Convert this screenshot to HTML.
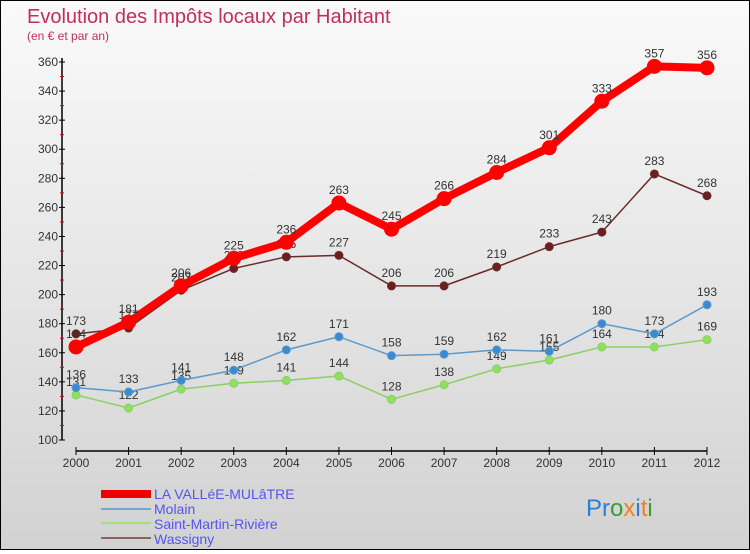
<!DOCTYPE html>
<html><head><meta charset="utf-8"><style>
html,body{margin:0;padding:0}
body{width:750px;height:550px;overflow:hidden;font-family:"Liberation Sans",sans-serif}
#wrap{position:relative;width:748px;height:548px;border:1px solid #000;background:linear-gradient(#fafafa,#d2d2d2)}
</style></head><body>
<div id="wrap">
<svg id="chart" width="748" height="548" xmlns="http://www.w3.org/2000/svg">
<text x="26" y="22" font-size="20" fill="#c0305a">Evolution des Impôts locaux par Habitant</text>
<text x="26" y="39" font-size="12" fill="#c0305a">(en € et par an)</text>
<g id="axes"></g><g id="series"></g>
<g>
<rect x="100" y="489" width="50" height="8" fill="#e00"/>
<text x="153" y="498" font-size="14" fill="#5555ee">LA VALLéE-MULâTRE</text>
<rect x="100" y="507" width="50" height="2" fill="#6fa8d0"/>
<text x="153" y="513" font-size="14" fill="#5555ee">Molain</text>
<rect x="100" y="521" width="50" height="2" fill="#9ee07a"/>
<text x="153" y="528" font-size="14" fill="#5555ee">Saint-Martin-Rivière</text>
<rect x="100" y="536" width="50" height="2" fill="#8b6060"/>
<text x="153" y="543" font-size="14" fill="#5555ee">Wassigny</text>
</g>
<text x="585" y="515" font-size="24"><tspan fill="#2a7fd4">Pr</tspan><tspan fill="#3a9a3a">o</tspan><tspan fill="#f08020">x</tspan><tspan fill="#2a7fd4">i</tspan><tspan fill="#f08020">t</tspan><tspan fill="#3a9a3a">i</tspan></text>
</svg>
</div>
<script>
const years=[2000,2001,2002,2003,2004,2005,2006,2007,2008,2009,2010,2011,2012];
const yTicks=[100,120,140,160,180,200,220,240,260,280,300,320,340,360];
const valleeValues=[164,181,206,225,236,263,245,266,284,301,333,357,356];
const molainValues=[136,133,141,148,162,171,158,159,162,161,180,173,193];
const smrValues=[131,122,135,139,141,144,128,138,149,155,164,164,169];
const wassignyValues=[173,177,203,218,226,227,206,206,219,233,243,283,268];
const NS="http://www.w3.org/2000/svg";
const x0=75,x1=706,yb=439,yt=61,vmin=100,vmax=360;
const xs=i=>x0+(x1-x0)*i/(years.length-1);
const ys=v=>yb-(v-vmin)*(yb-yt)/(vmax-vmin);
function mk(tag,attrs,parent){const e=document.createElementNS(NS,tag);for(const k in attrs)e.setAttribute(k,attrs[k]);parent.appendChild(e);return e;}
const axes=document.getElementById('axes');
let yl=mk('line',{x1:61,y1:ys(vmax)-4,x2:61,y2:ys(vmin),stroke:'#000','stroke-width':1.5},axes);


yTicks.forEach((t,i)=>{
  mk('line',{x1:58,x2:64,y1:ys(t),y2:ys(t),stroke:'#000'},axes);
  if(i<yTicks.length-1) mk('line',{x1:59,x2:63,y1:ys(t+10),y2:ys(t+10),stroke:'#e00'},axes);
  const tx=mk('text',{x:57,y:ys(t)+4,'font-size':12,fill:'#333','text-anchor':'end'},axes);
  tx.textContent=t;
  
  
});
let xl=mk('line',{x1:x0,y1:450,x2:x1,y2:450,stroke:'#000','stroke-width':1.5},axes);


years.forEach((y,i)=>{
  mk('line',{x1:xs(i),x2:xs(i),y1:446,y2:454,stroke:'#000'},axes);
  const tx=mk('text',{x:xs(i),y:466,'font-size':12,fill:'#333','text-anchor':'middle'},axes);
  tx.textContent=y;
  
  
});
const sg=document.getElementById('series');
function draw(vals,name,color,w,r,fill){
  const g=mk('g',{},sg);
  
  
  const p=mk('polyline',{points:vals.map((v,i)=>xs(i)+','+ys(v)).join(' '),fill:'none',stroke:color,'stroke-width':w,'stroke-linejoin':'round'},g);
  
  
  vals.forEach((v,i)=>{
    const c=mk('circle',{cx:xs(i),cy:ys(v),r:r,fill:fill,stroke:color,'stroke-width':1},g);
    
    
    const t=mk('text',{x:xs(i),y:ys(v)-9,'font-size':12,fill:'#333','text-anchor':'middle'},g);
    t.textContent=v;
    
    
  });
}
draw(smrValues,'saint-martin-riviere','#8ccf60',1.5,4,'#8ee060');
draw(molainValues,'molain','#5a9acd',1.5,4,'#3a8ad0');
draw(wassignyValues,'wassigny','#6b2a2a',1.5,4,'#6b2020');
draw(valleeValues,'la-vallee-mulatre','#f00',8,7,'#f00');
</script>
</body></html>
